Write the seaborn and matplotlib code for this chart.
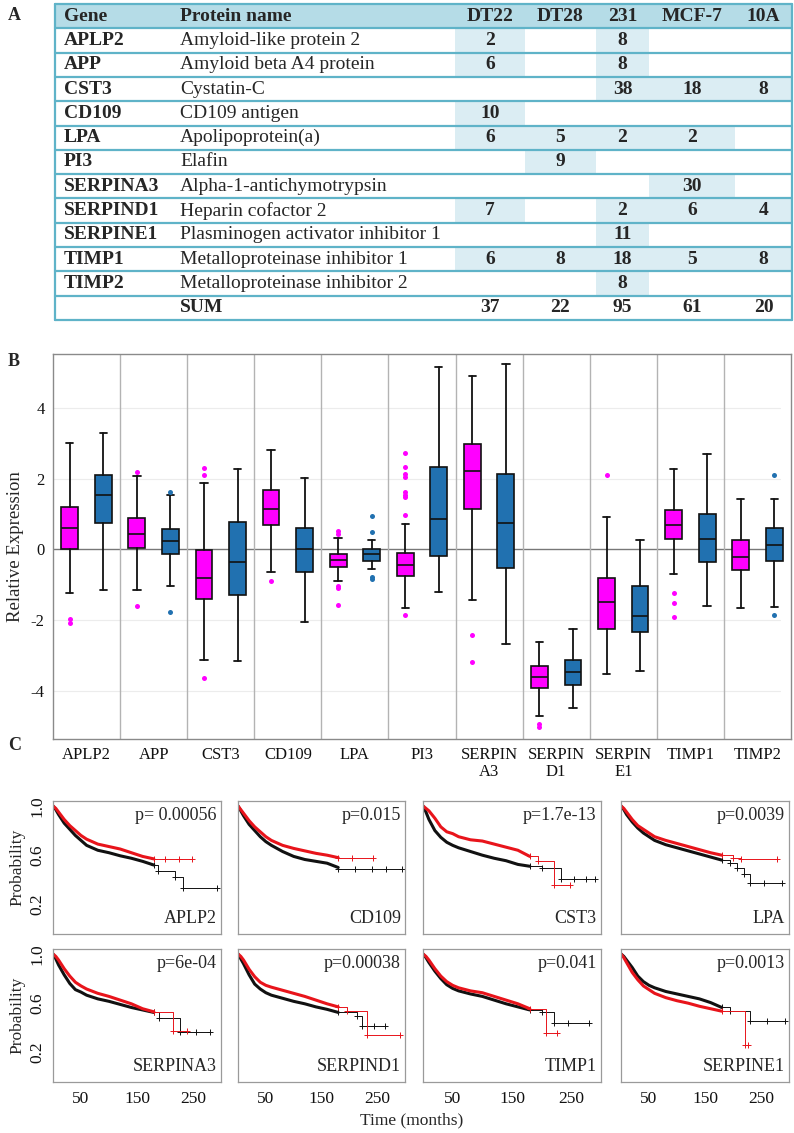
import numpy as np
import pandas as pd
import seaborn as sns
import matplotlib
matplotlib.use("Agg")
import matplotlib.pyplot as plt
from matplotlib.patches import Rectangle

# ── Panel A : table ─────────────────────────────────────────────
GENES = ["APLP2", "APP", "CST3", "CD109", "LPA", "PI3", "SERPINA3",
         "SERPIND1", "SERPINE1", "TIMP1", "TIMP2"]
PROTEINS = ["Amyloid-like protein 2", "Amyloid beta A4 protein", "Cystatin-C",
            "CD109 antigen", "Apolipoprotein(a)", "Elafin",
            "Alpha-1-antichymotrypsin", "Heparin cofactor 2",
            "Plasminogen activator inhibitor 1", "Metalloproteinase inhibitor 1",
            "Metalloproteinase inhibitor 2"]
CELL_LINES = ["DT22", "DT28", "231", "MCF-7", "10A"]
DT22 = [2, 6, None, 10, 6, None, None, 7, None, 6, None]
DT28 = [None, None, None, None, 5, 9, None, None, None, 8, None]
C231 = [8, 8, 38, None, 2, None, None, 2, 11, 18, 8]
MCF7 = [None, None, 18, None, 2, None, 30, 6, None, 5, None]
C10A = [None, None, 8, None, None, None, None, 4, None, 8, None]
SUMS = [37, 22, 95, 61, 20]

# ── Panel B : box statistics (pink / blue) ─────────────────────
BOX_LABELS = ["APLP2", "APP", "CST3", "CD109", "LPA", "PI3", "SERPIN\nA3",
              "SERPIN\nD1", "SERPIN\nE1", "TIMP1", "TIMP2"]
PINK_LO  = [-1.23, -1.15, -3.14, -0.63, -0.90, -1.65, -1.43, -4.72, -3.52, -0.70, -1.66]
PINK_Q1  = [0.00, 0.03, -1.39, 0.68, -0.50, -0.75, 1.14, -3.93, -2.24, 0.30, -0.58]
PINK_MED = [0.59, 0.44, -0.82, 1.15, -0.29, -0.45, 2.20, -3.61, -1.50, 0.70, -0.23]
PINK_Q3  = [1.20, 0.88, -0.02, 1.69, -0.14, -0.10, 2.97, -3.30, -0.81, 1.10, 0.25]
PINK_HI  = [3.00, 2.06, 1.87, 2.80, 0.32, 0.72, 4.89, -2.61, 0.92, 2.28, 1.43]
PINK_FLIERS = [[-1.98, -2.09], [2.19, -1.59], [2.29, 2.09, -3.65], [-0.90],
               [0.53, 0.43, -1.03, -1.08, -1.58],
               [2.72, 2.34, 2.13, 2.04, 1.63, 1.54, 1.49, 0.96, -1.86],
               [-2.41, -3.19], [-4.93, -5.02], [2.11], [-1.22, -1.51, -1.91], []]
BLUE_LO  = [-1.14, -1.03, -3.16, -2.04, -0.55, -1.20, -2.67, -4.49, -3.43, -1.61, -1.62]
BLUE_Q1  = [0.73, -0.14, -1.28, -0.65, -0.33, -0.20, -0.52, -3.83, -2.33, -0.36, -0.34]
BLUE_MED = [1.54, 0.24, -0.35, 0.00, -0.12, 0.87, 0.75, -3.47, -1.88, 0.30, 0.12]
BLUE_Q3  = [2.09, 0.57, 0.76, 0.61, 0.00, 2.33, 2.14, -3.13, -1.03, 0.99, 0.61]
BLUE_HI  = [3.28, 1.54, 2.26, 2.02, 0.26, 5.15, 5.25, -2.25, 0.27, 2.68, 1.43]
BLUE_FLIERS = [[], [1.63, -1.78], [], [], [0.95, 0.48, -0.78, -0.83], [], [], [],
               [], [], [2.10, -1.85]]

# ── Panel C : Kaplan-Meier curves ──────────────────────────────
KM_T = [0, 5, 10, 20, 30, 40, 50, 60, 80, 100, 120, 140, 160, 180]
KM_APLP2 = dict(p="p= 0.00056",
                black=[1.0, .97, .93, .86, .81, .76, .72, .68, .64, .62, .595, .575, .55, .52],
                red=[1.0, .98, .95, .89, .84, .80, .76, .73, .69, .67, .65, .62, .59, .57],
                black_tail=([180, 188, 217, 232, 292], [.52, .47, .42, .33, .33]),
                red_tail=([180, 200, 225, 248], [.57, .57, .57, .57]))
KM_CD109 = dict(p="p=0.015",
                black=[1.0, .96, .92, .85, .80, .75, .71, .68, .63, .59, .565, .55, .535, .50],
                red=[1.0, .97, .94, .88, .83, .79, .75, .72, .68, .655, .635, .615, .60, .58],
                black_tail=([180, 210, 240, 265, 295], [.49, .49, .49, .49, .49]),
                red_tail=([180, 205, 243], [.58, .58, .58]))
KM_CST3 = dict(p="p=1.7e-13",
               black=[1.0, .95, .89, .80, .745, .705, .68, .66, .63, .60, .575, .555, .525, .51],
               red=[1.0, .98, .96, .90, .83, .79, .775, .75, .725, .715, .69, .665, .64, .59],
               black_tail=([180, 200, 232, 255, 275, 290], [.51, .50, .41, .41, .41, .41]),
               red_tail=([180, 193, 220, 248], [.59, .55, .36, .36]))
KM_LPA = dict(p="p=0.0039",
              black=[1.0, .97, .93, .87, .82, .78, .75, .72, .685, .66, .635, .61, .585, .56],
              red=[1.0, .98, .95, .89, .84, .81, .78, .75, .72, .695, .67, .645, .62, .60],
              black_tail=([180, 195, 207, 219, 231, 255, 288], [.56, .54, .50, .445, .375, .375, .375]),
              red_tail=([180, 200, 214, 279], [.60, .58, .57, .57]))
KM_SERPINA3 = dict(p="p=6e-04",
                   black=[1.0, .96, .91, .83, .76, .71, .69, .665, .635, .615, .59, .565, .545, .525],
                   red=[1.0, .98, .95, .88, .82, .77, .74, .715, .68, .655, .625, .595, .555, .53],
                   black_tail=([180, 190, 227, 255, 281], [.525, .48, .365, .365, .365]),
                   red_tail=([180, 215, 239], [.525, .375, .375]))
KM_SERPIND1 = dict(p="p=0.00038",
                   black=[1.0, .96, .92, .83, .755, .715, .685, .665, .64, .615, .595, .57, .55, .525],
                   red=[1.0, .98, .95, .875, .815, .77, .745, .73, .705, .68, .655, .625, .595, .57],
                   black_tail=([180, 213, 222, 245, 264], [.525, .495, .415, .415, .415]),
                   red_tail=([180, 195, 231, 291], [.565, .535, .34, .34]))
KM_TIMP1 = dict(p="p=0.041",
                black=[1.0, .97, .93, .86, .80, .75, .72, .70, .675, .655, .625, .595, .57, .545],
                red=[1.0, .98, .95, .88, .82, .775, .745, .725, .70, .685, .655, .625, .595, .555],
                black_tail=([180, 200, 220, 245, 279], [.545, .53, .44, .44, .44]),
                red_tail=([180, 207, 225], [.555, .355, .355]))
KM_SERPINE1 = dict(p="p=0.0013",
                   black=[1.0, .98, .95, .89, .82, .775, .745, .725, .695, .675, .655, .635, .605, .565],
                   red=[1.0, .97, .93, .85, .79, .74, .71, .68, .645, .62, .60, .575, .555, .535],
                   black_tail=([180, 195, 230, 260, 293], [.565, .54, .455, .455, .455]),
                   red_tail=([180, 221, 227], [.535, .26, .26]))
KM_PANELS = [("APLP2", KM_APLP2), ("CD109", KM_CD109), ("CST3", KM_CST3),
             ("LPA", KM_LPA), ("SERPINA3", KM_SERPINA3),
             ("SERPIND1", KM_SERPIND1), ("TIMP1", KM_TIMP1),
             ("SERPINE1", KM_SERPINE1)]

# ── Style ───────────────────────────────────────────────────────
PINK = "#ff00ff"
BLUE = "#2171b0"
HEAD = "#b5dce7"
CELL = "#dbedf3"
LINE = "#5fb3c8"
KM_RED = "#e8141b"
KM_BLACK = "#111111"

sns.set_theme(style="white")
plt.rcParams["font.family"] = ["Liberation Serif", "DejaVu Serif"]
plt.rcParams["axes.unicode_minus"] = False

W, H = 794, 1133
fig = plt.figure(figsize=(W / 100, H / 100), dpi=100)


def frac(x0, y0, x1, y1):
    return [x0 / W, 1 - y1 / H, (x1 - x0) / W, (y1 - y0) / H]


# ══════════════════════════════════════════════════════════════
# A — table
# ══════════════════════════════════════════════════════════════
TX0, TX1, TY0, TY1 = 55, 792, 4, 320
ax_t = fig.add_axes(frac(TX0, TY0, TX1, TY1))
ax_t.set_xlim(TX0, TX1)
ax_t.set_ylim(TY1, TY0)
ax_t.axis("off")
row_h = (TY1 - TY0) / 13
COL_L = [455, 525, 596, 649, 735]
COL_R = [525, 596, 649, 735, 792]
GENE_X, PROT_X = 64, 180
FS_T = 14

ax_t.add_patch(Rectangle((TX0, TY0), TX1 - TX0, row_h, color=HEAD, lw=0))
yc = TY0 + row_h / 2
ax_t.text(GENE_X, yc, "Gene", fontsize=FS_T, fontweight="bold", va="center")
ax_t.text(PROT_X, yc, "Protein name", fontsize=FS_T, fontweight="bold", va="center")
for name, x0, x1 in zip(CELL_LINES, COL_L, COL_R):
    ax_t.text((x0 + x1) / 2, yc, name, fontsize=FS_T, fontweight="bold",
              ha="center", va="center")

for i, (g, p) in enumerate(zip(GENES, PROTEINS)):
    y0 = TY0 + (i + 1) * row_h
    yc = y0 + row_h / 2
    ax_t.text(GENE_X, yc, g, fontsize=FS_T, fontweight="bold", va="center")
    ax_t.text(PROT_X, yc, p, fontsize=FS_T, va="center")
    for col, x0, x1 in zip([DT22, DT28, C231, MCF7, C10A], COL_L, COL_R):
        v = col[i]
        if v is None:
            continue
        ax_t.add_patch(Rectangle((x0, y0), x1 - x0, row_h, color=CELL, lw=0))
        ax_t.text((x0 + x1) / 2, yc, str(v), fontsize=FS_T, fontweight="bold",
                  ha="center", va="center")

yc = TY0 + 12 * row_h + row_h / 2
ax_t.text(PROT_X, yc, "SUM", fontsize=FS_T, fontweight="bold", va="center")
for s, x0, x1 in zip(SUMS, COL_L, COL_R):
    ax_t.text((x0 + x1) / 2, yc, str(s), fontsize=FS_T, fontweight="bold",
              ha="center", va="center")

for i in range(14):
    y = TY0 + i * row_h
    ax_t.plot([TX0, TX1], [y, y], color=LINE, lw=1.6, clip_on=False)
for x in (TX0, TX1):
    ax_t.plot([x, x], [TY0, TY1], color=LINE, lw=1.6, clip_on=False)

# ══════════════════════════════════════════════════════════════
# B — boxplots
# ══════════════════════════════════════════════════════════════
ax_b = fig.add_axes(frac(53, 354, 791, 739))
n = len(BOX_LABELS)


def stats(lo, q1, med, q3, hi, fl):
    return [dict(whislo=a, q1=b, med=c, q3=d, whishi=e, fliers=f)
            for a, b, c, d, e, f in zip(lo, q1, med, q3, hi, fl)]


for (st, col, off) in [(stats(PINK_LO, PINK_Q1, PINK_MED, PINK_Q3, PINK_HI, PINK_FLIERS), PINK, -0.25),
                       (stats(BLUE_LO, BLUE_Q1, BLUE_MED, BLUE_Q3, BLUE_HI, BLUE_FLIERS), BLUE, 0.25)]:
    ax_b.bxp(st, positions=np.arange(n) + off, widths=0.25, capwidths=0.11,
             patch_artist=True, manage_ticks=False, zorder=3,
             boxprops=dict(facecolor=col, edgecolor="#111111", lw=1.2),
             medianprops=dict(color="#111111", lw=1.2),
             whiskerprops=dict(color="#111111", lw=1.3),
             capprops=dict(color="#111111", lw=1.3),
             flierprops=dict(marker="o", markerfacecolor=col, markeredgecolor="none",
                             markersize=3.6))

ax_b.set_xlim(-0.5, n - 0.5)
ax_b.set_ylim(-5.36, 5.52)
ax_b.set_yticks([-4, -2, 0, 2, 4])
ax_b.set_xticks(np.arange(n))
ax_b.set_xticklabels(BOX_LABELS, fontsize=12, linespacing=1.05)
ax_b.tick_params(axis="both", length=0, labelsize=12, colors="#111111")
ax_b.tick_params(axis="x", pad=6)
ax_b.tick_params(axis="y", pad=6)
for y in (-4, -2, 2, 4):
    ax_b.axhline(y, color="#ececec", lw=0.8, zorder=0, xmax=0.985)
ax_b.axhline(0, color="#777777", lw=1.0, zorder=1, xmax=0.985)
for i in range(n - 1):
    ax_b.axvline(i + 0.5, color="#b3b3b3", lw=1.0, zorder=1)
for sp in ax_b.spines.values():
    sp.set_color("#8a8a8a")
    sp.set_linewidth(1.0)
ax_b.set_ylabel("Relative Expression", fontsize=13.5, labelpad=5)

# ══════════════════════════════════════════════════════════════
# C — Kaplan-Meier panels
# ══════════════════════════════════════════════════════════════
COLS = [(53, 221), (238, 405), (423, 601), (621, 789)]
ROWS = [(801, 934), (949, 1082)]

for k, (gene, km) in enumerate(KM_PANELS):
    r, c = divmod(k, 4)
    ax = fig.add_axes(frac(COLS[c][0], ROWS[r][0], COLS[c][1], ROWS[r][1]))
    for key, color in (("black", KM_BLACK), ("red", KM_RED)):
        sns.lineplot(x=KM_T, y=km[key], ax=ax, color=color, lw=2.2,
                     estimator=None, sort=False)
        tt, ts = km[key + "_tail"]
        sns.lineplot(x=tt, y=ts, ax=ax, color=color, lw=0.7,
                     drawstyle="steps-post", marker="+", markersize=4,
                     markeredgecolor=color, markeredgewidth=0.7,
                     estimator=None, sort=False)
    ax.set_xlim(0, 300)
    ax.set_ylim(-0.04, 1.04)
    ax.set_xticks([0, 50, 100, 150, 200, 250])
    ax.set_yticks([0, 0.2, 0.4, 0.6, 0.8, 1.0])
    if r == 1:
        ax.set_xticklabels(["", "50", "", "150", "", "250"])
    else:
        ax.set_xticklabels([])
    if c == 0:
        ax.set_yticklabels(["", "0.2", "", "0.6", "", "1.0"], rotation=90, va="center")
        ax.set_ylabel("Probability", fontsize=12.5, labelpad=3)
    else:
        ax.set_yticklabels([])
    ax.tick_params(axis="both", length=3.5, width=0.7, color="#888888",
                   labelsize=12.5, colors="#111111", pad=2)
    ax.tick_params(axis="both", color="#888888")
    ax.tick_params(axis="x", pad=3)
    for sp in ax.spines.values():
        sp.set_color("#9a9a9a")
        sp.set_linewidth(0.9)
    ax.text(0.975, 0.955, km["p"], transform=ax.transAxes, ha="right", va="top",
            fontsize=13)
    ax.text(0.975, 0.05, gene, transform=ax.transAxes, ha="right", va="bottom",
            fontsize=13)
    ax.set_xlabel("")

fig.text(412 / W, 1 - 1120 / H, "Time (months)", fontsize=12.5, ha="center", va="center")

# panel letters
for lab, x, y in (("A", 8, 16), ("B", 8, 362), ("C", 8, 746)):
    fig.text(x / W, 1 - y / H, lab, fontsize=13, fontweight="bold", va="center")

fig.savefig("out.png", dpi=100)
